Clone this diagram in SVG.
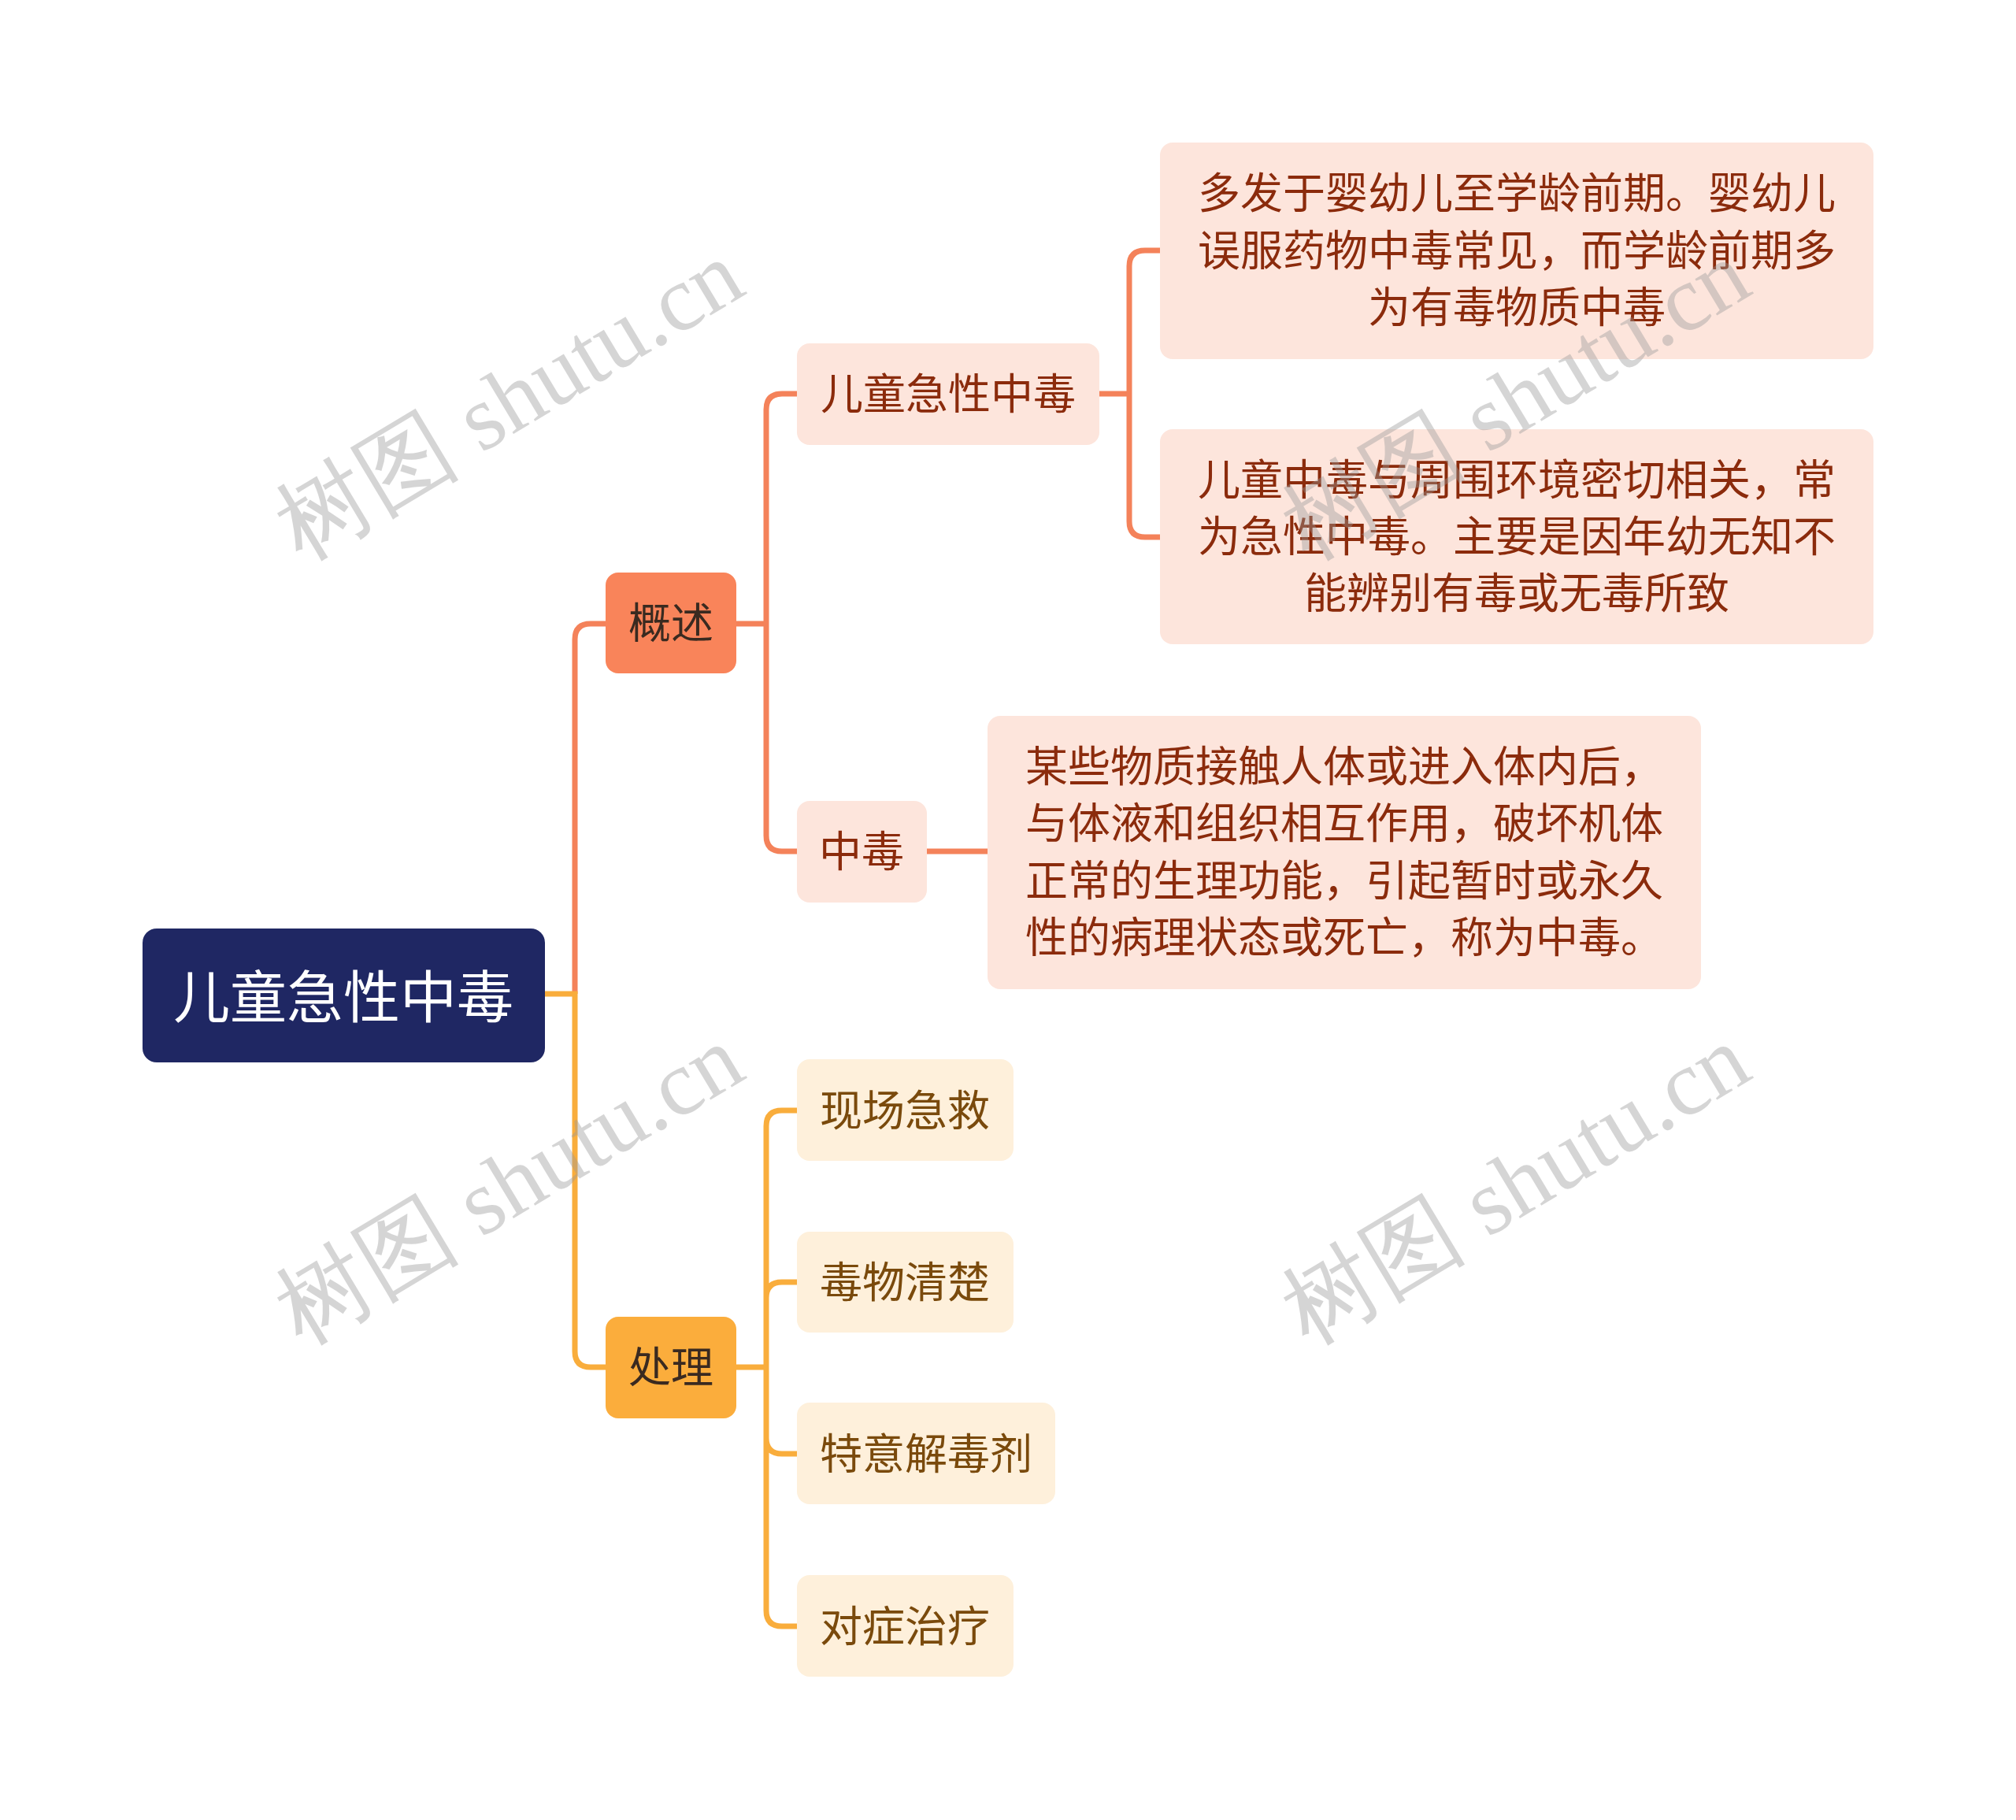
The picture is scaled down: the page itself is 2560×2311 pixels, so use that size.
<svg xmlns="http://www.w3.org/2000/svg" width="2560" height="2311" viewBox="0 0 2560 2311">
<style>
text{font-family:"Noto Sans CJK SC","Noto Sans",sans-serif;text-anchor:middle;dominant-baseline:central}
.root text{fill:#fff;font-size:72px}
.l1 text{fill:#3a2a20;font-size:54px}
.l2o rect,.leaf rect{fill:#fde5dc}
.l2o text,.leaf text{fill:#8b2b0c;font-size:54px}
.l2y rect{fill:#fef0db}
.l2y text{fill:#7a4a0c;font-size:54px}
.co{fill:none;stroke:#f4825a;stroke-width:7}
.cy{fill:none;stroke:#f9ad3c;stroke-width:7}
.wm{font-family:"Liberation Serif",serif;font-size:118px;fill:#999;opacity:0.4;text-anchor:middle}
</style>
<rect width="2560" height="2311" fill="#fff"/>
<g id="connectors">
<path class="co" d="M730 1262 V812 Q730 792 750 792 H769"/>
<path class="cy" d="M692 1262 H730 V1716 Q730 1736 750 1736 H769"/>
<path class="co" d="M935 792 H973 M973 792 V520 Q973 500 993 500 H1012 M973 792 V1061 Q973 1081 993 1081 H1012"/>
<path class="co" d="M1396 500 H1434 M1434 500 V338 Q1434 318 1454 318 H1473 M1434 500 V662 Q1434 682 1454 682 H1473"/>
<path class="co" d="M1177 1081 H1254"/>
<path class="cy" d="M935 1736 H973 M973 1736 V1430 Q973 1410 993 1410 H1012 M973 1648 Q973 1628 993 1628 H1012 M973 1826 Q973 1846 993 1846 H1012 M973 1736 V2045 Q973 2065 993 2065 H1012"/>
</g>
<g id="root" class="root"><rect x="181" y="1179" width="511" height="170" rx="18" fill="#1f2763"/><text x="436" y="1260">儿童急性中毒</text></g>
<g id="gaishu" class="l1"><rect x="769" y="727" width="166" height="128" rx="16" fill="#f9845a"/><text x="852" y="787">概述</text></g>
<g id="chuli" class="l1"><rect x="769" y="1672" width="166" height="129" rx="16" fill="#fbad3c"/><text x="852" y="1732">处理</text></g>
<g id="ertong" class="l2o"><rect x="1012" y="436" width="384" height="129" rx="16"/><text x="1204" y="496">儿童急性中毒</text></g>
<g id="zhongdu" class="l2o"><rect x="1012" y="1017" width="165" height="129" rx="16"/><text x="1094" y="1077">中毒</text></g>
<g id="leaf1" class="leaf"><rect x="1473" y="181" width="906" height="275" rx="16"/><text x="1926" y="241">多发于婴幼儿至学龄前期。婴幼儿</text><text x="1926" y="314">误服药物中毒常见，而学龄前期多</text><text x="1926" y="386">为有毒物质中毒</text></g>
<g id="leaf2" class="leaf"><rect x="1473" y="545" width="906" height="273" rx="16"/><text x="1926" y="605">儿童中毒与周围环境密切相关，常</text><text x="1926" y="677">为急性中毒。主要是因年幼无知不</text><text x="1926" y="749">能辨别有毒或无毒所致</text></g>
<g id="leaf3" class="leaf"><rect x="1254" y="909" width="906" height="347" rx="16"/><text x="1707" y="969">某些物质接触人体或进入体内后，</text><text x="1707" y="1041">与体液和组织相互作用，破坏机体</text><text x="1707" y="1114">正常的生理功能，引起暂时或永久</text><text x="1707" y="1186">性的病理状态或死亡，称为中毒。</text></g>
<g id="xianchang" class="l2y"><rect x="1012" y="1345" width="275" height="129" rx="16"/><text x="1149" y="1406">现场急救</text></g>
<g id="duwu" class="l2y"><rect x="1012" y="1564" width="275" height="128" rx="16"/><text x="1149" y="1624">毒物清楚</text></g>
<g id="teyi" class="l2y"><rect x="1012" y="1781" width="328" height="129" rx="16"/><text x="1176" y="1842">特意解毒剂</text></g>
<g id="duizheng" class="l2y"><rect x="1012" y="2000" width="275" height="129" rx="16"/><text x="1149" y="2061">对症治疗</text></g>
<g id="watermarks">
<text class="wm" transform="translate(626 474) rotate(-31)" y="40">树图 shutu.cn</text>
<text class="wm" transform="translate(626 1470) rotate(-31)" y="40">树图 shutu.cn</text>
<text class="wm" transform="translate(1904 474) rotate(-31)" y="40">树图 shutu.cn</text>
<text class="wm" transform="translate(1904 1470) rotate(-31)" y="40">树图 shutu.cn</text>
</g>
</svg>
